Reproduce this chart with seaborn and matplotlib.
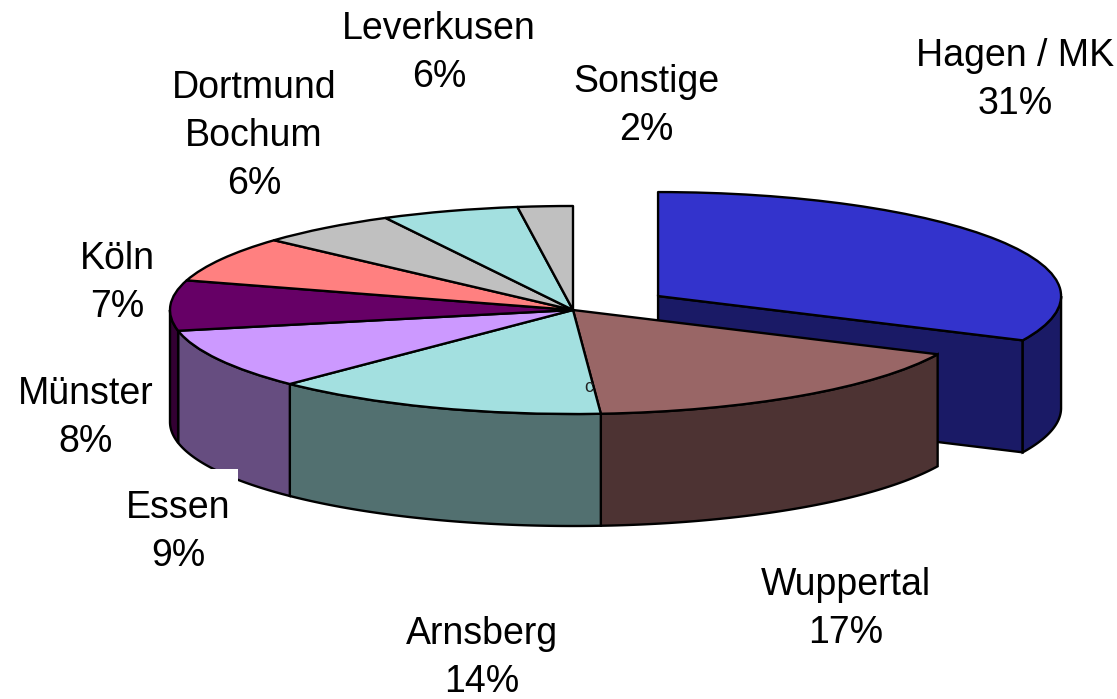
import matplotlib
matplotlib.use('Agg')
import matplotlib.pyplot as plt
from matplotlib.patches import Rectangle
import numpy as np
import seaborn as sns

sns.set_theme(style='white')
plt.rcParams['font.family'] = ['Liberation Sans', 'DejaVu Sans']

W, H = 1117, 699

# reading order from 12 o'clock, clockwise
regions = ['Hagen / MK', 'Wuppertal', 'Arnsberg', 'Essen', 'Münster', 'Köln',
           'Dortmund\nBochum', 'Leverkusen', 'Sonstige']
shares = [32.0, 16.9, 13.5, 9.4, 7.8, 7.1, 5.6, 5.5, 2.2]
share_labels = ['31%', '17%', '14%', '9%', '8%', '7%', '6%', '6%', '2%']
explode = [0.25, 0, 0, 0, 0, 0, 0, 0, 0]
top_colors = ['#3333CC', '#996666', '#A3E0E0', '#CC99FF', '#660066', '#FF8080',
              '#C0C0C0', '#A3E0E0', '#C0C0C0']
wall_colors = ['#1A1A66', '#4D3333', '#527070', '#664D80', '#330033', '#804040',
               '#606060', '#527070', '#606060']

# pixel placement of the pie in the figure
cx, cy, rx, ry = 573, 310, 403, 104
depth = 112 / ry
edge = dict(edgecolor='black', linewidth=1.7, joinstyle='round')

fig = plt.figure(figsize=(W / 100, H / 100), dpi=100)
ax = fig.add_axes([0, 0, 1, 1])

wedges, _ = ax.pie(shares, explode=explode, colors=top_colors, startangle=90,
                   counterclock=False, wedgeprops=edge)
for w in wedges:
    w.set_zorder(5)

# unit circle squashed to an ellipse, pixel-aligned
ax.set_aspect('auto')
ax.set_xlim(-cx / rx, (W - cx) / rx)
ax.set_ylim((cy - H) / ry, cy / ry)

# side walls below the top faces
stops = np.cumsum([0] + shares) / 100 * 360
for i, (t0, t1) in enumerate(zip(stops[:-1], stops[1:])):
    mid = np.radians((t0 + t1) / 2)
    ox = explode[i] * np.sin(mid)
    oy = explode[i] * np.cos(mid)
    a0, a1 = max(t0, 90), min(t1, 270)
    if a1 > a0:
        t = np.radians(np.linspace(a0, a1, 80))
        xs = ox + np.sin(t)
        ys = oy + np.cos(t)
        ax.fill(np.r_[xs, xs[::-1]], np.r_[ys, ys[::-1] - depth],
                color=wall_colors[i], zorder=3, ec='black', lw=1.7)
    if explode[i]:
        # cut face of the pulled-out slice, seen through the gap
        r = np.radians(t1)
        xs = np.array([ox, ox + np.sin(r)])
        ys = np.array([oy, oy + np.cos(r)])
        ax.fill(np.r_[xs, xs[::-1]], np.r_[ys, ys[::-1] - depth],
                color=wall_colors[i], zorder=2, ec='black', lw=1.7)

# white label box that bites into the Essen wall
ax.add_patch(Rectangle((120 / W, 1 - 520 / H), 118 / W, 51 / H, transform=ax.transAxes,
                       facecolor='white', edgecolor='none', zorder=4))

label_xy = [(1015, 80), (846, 609), (482, 658), (178, 532), (86, 418), (117, 283),
            (254, 136), (439, 53), (646, 106)]
for name, pct, (x, y) in zip(regions, share_labels, label_xy):
    ax.text(x / W, 1 - y / H, f'{name}\n{pct}', transform=ax.transAxes, ha='center', va='center',
            fontsize=27, linespacing=1.44, color='black', zorder=8)

ax.text(589 / W, 1 - 388 / H, 'c', transform=ax.transAxes, ha='center', va='center',
        fontsize=13, color='#222222', zorder=8)

fig.savefig('out.png', dpi=100, facecolor='white')
